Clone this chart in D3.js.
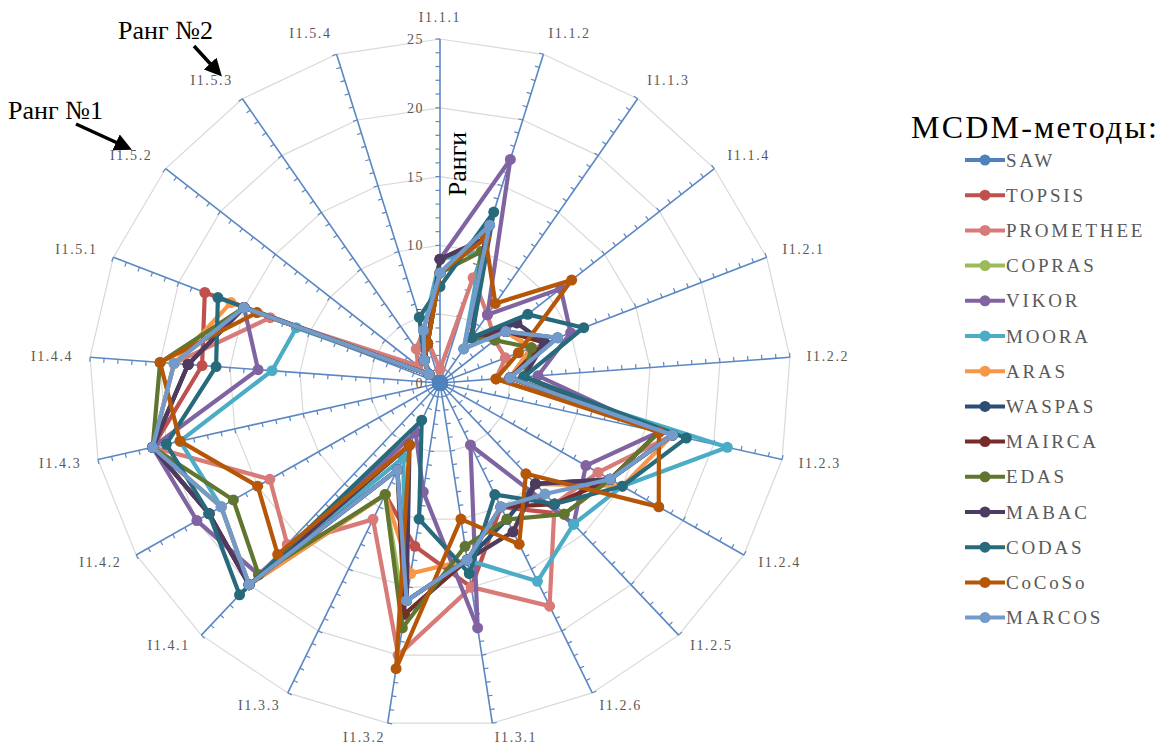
<!DOCTYPE html>
<html>
<head>
<meta charset="utf-8">
<script src="https://cdn.jsdelivr.net/npm/d3@7"></script>
<style>
  body { margin: 0; background: #fff; }
  text { font-family: "Liberation Serif", "Times New Roman", serif; }
</style>
</head>
<body>
<svg id="chart" width="1166" height="749"></svg>
<script>
// indicators (axes of the radar)
var categories = ["I1.1.1", "I1.1.2", "I1.1.3", "I1.1.4", "I1.2.1", "I1.2.2", "I1.2.3",
    "I1.2.4", "I1.2.5", "I1.2.6", "I1.3.1", "I1.3.2", "I1.3.3", "I1.4.1", "I1.4.2",
    "I1.4.3", "I1.4.4", "I1.5.1", "I1.5.2", "I1.5.3", "I1.5.4"];

var methods = ["SAW", "TOPSIS", "PROMETHEE", "COPRAS", "VIKOR", "MOORA", "ARAS",
    "WASPAS", "MAIRCA", "EDAS", "MABAC", "CODAS", "CoCoSo", "MARCOS"];

var methodColors = ["#4F81BD", "#C0504D", "#D87A78", "#9BBB59", "#8064A2", "#4BACC6", "#F79646",
    "#2C4D75", "#772C2A", "#5F7530", "#4D3B62", "#276A7C", "#B65708", "#729ACA"];

var tickValues = [0, 5, 10, 15, 20, 25];

// ranks, one array per method, in the order of categories
var saw       = [0, 0, 0, 0, 0, 0, 0, 0, 0, 0, 0, 0, 0, 0, 0, 0, 0, 0, 0, 0, 0];
var topsis    = [8, 11, 4, 6, 7, 5, 16, 14, 13, 10, 15, 12, 9, 20, 19, 21, 17, 18, 1, 2, 3];
var promethee = [1, 8, 6, 5, 5, 4, 17, 13, 12, 18, 15, 20, 11, 16, 14, 21, 19, 13, 2, 3, 4];
var copras    = [8, 11, 4, 6, 7, 5, 16, 14, 10, 12, 13, 17, 9, 20, 18, 21, 19, 15, 1, 2, 3];
var vikor     = [9, 17, 6, 11, 10, 7, 16, 12, 14, 5, 18, 8, 4, 19, 20, 21, 13, 15, 1, 2, 3];
var moora     = [9, 10, 3, 7, 8, 5, 21, 15, 14, 16, 13, 17, 6, 20, 18, 19, 12, 11, 1, 2, 4];
var aras      = [8, 11, 4, 6, 7, 5, 17, 15, 10, 12, 13, 14, 9, 20, 18, 21, 19, 16, 1, 2, 3];
var waspas    = [8, 12, 4, 6, 9, 5, 17, 14, 10, 11, 13, 16, 7, 20, 19, 21, 18, 15, 1, 2, 3];
var mairca    = [9, 11, 4, 6, 8, 5, 16, 14, 12, 10, 13, 17, 7, 20, 19, 21, 18, 15, 1, 2, 3];
var edas      = [8, 10, 4, 5, 7, 6, 16, 14, 13, 11, 12, 18, 9, 19, 17, 21, 20, 15, 1, 2, 3];
var mabac     = [9, 11, 4, 7, 8, 6, 17, 14, 10, 12, 13, 16, 5, 20, 19, 21, 18, 15, 1, 2, 3];
var codas     = [7, 13, 4, 8, 11, 6, 18, 15, 12, 9, 14, 10, 3, 21, 19, 20, 16, 17, 1, 2, 5];
var cocoso    = [8, 11, 7, 12, 6, 4, 16, 18, 9, 13, 10, 21, 5, 17, 15, 19, 20, 14, 1, 2, 3];
var marcos    = [8, 12, 3, 6, 9, 5, 17, 14, 11, 10, 13, 16, 7, 20, 18, 21, 19, 15, 1, 2, 4];

var seriesValues = [saw, topsis, promethee, copras, vikor, moora, aras,
    waspas, mairca, edas, mabac, codas, cocoso, marcos];

var svg = d3.select("#chart");
var cx = 440, cy = 383;
var xStretch = 1.02;
var axisColor = "#5B87C3";

var r = d3.scaleLinear().domain([0, 25]).range([0, 344]);
var angle = d3.scaleLinear().domain([0, categories.length]).range([0, 2 * Math.PI]);

function pos(i, v) {
    var a = angle(i);
    return [cx + Math.sin(a) * r(v) * xStretch, cy - Math.cos(a) * r(v)];
}

// grid rings
var ring = d3.line().curve(d3.curveLinearClosed);
svg.append("g")
    .selectAll("path")
    .data(tickValues.slice(1))
    .enter()
    .append("path")
    .attr("d", function (v) {
        return ring(categories.map(function (c, i) { return pos(i, v); }));
    })
    .attr("fill", "none")
    .attr("stroke", "#D9D9D9")
    .attr("stroke-width", 1.2);

// spokes with minor ticks
var spokes = svg.append("g");
categories.forEach(function (c, i) {
    var a = angle(i);
    var end = pos(i, 25);
    spokes.append("line")
        .attr("x1", cx).attr("y1", cy)
        .attr("x2", end[0]).attr("y2", end[1])
        .attr("stroke", axisColor)
        .attr("stroke-width", 1.6);
    var nx = -Math.cos(a), ny = -Math.sin(a);
    spokes.selectAll(null)
        .data(d3.range(1, 26))
        .enter()
        .append("line")
        .attr("x1", function (v) { return pos(i, v)[0]; })
        .attr("y1", function (v) { return pos(i, v)[1]; })
        .attr("x2", function (v) { return pos(i, v)[0] + nx * 4.5; })
        .attr("y2", function (v) { return pos(i, v)[1] + ny * 4.5; })
        .attr("stroke", axisColor)
        .attr("stroke-width", 1.2);

    var s = Math.sin(a), co = Math.cos(a);
    spokes.append("text")
        .attr("x", end[0] + s * 17)
        .attr("y", end[1] - co * 14 - (co > 0 ? co * 8 : 0))
        .attr("dy", "0.35em")
        .attr("text-anchor", s > 0.1 ? "start" : (s < -0.1 ? "end" : "middle"))
        .attr("fill", "#595959")
        .attr("font-size", 14)
        .attr("letter-spacing", 1.6)
        .text(c);
});

// value labels along first axis
svg.append("g")
    .selectAll("text")
    .data(tickValues)
    .enter()
    .append("text")
    .attr("x", cx - 16)
    .attr("y", function (v) { return cy - r(v); })
    .attr("dy", "0.35em")
    .attr("text-anchor", "end")
    .attr("fill", "#595959")
    .attr("font-size", 14)
    .attr("letter-spacing", 1.5)
    .text(function (v) { return v; });

// series
var line = d3.line().curve(d3.curveLinearClosed);
var seriesG = svg.append("g");
seriesValues.forEach(function (vals, k) {
    var pts = vals.map(function (v, i) { return pos(i, v); });
    var g = seriesG.append("g");
    g.append("path")
        .attr("d", line(pts))
        .attr("fill", "none")
        .attr("stroke", methodColors[k])
        .attr("stroke-width", 4.2)
        .attr("stroke-linejoin", "round");
    g.selectAll("circle")
        .data(pts)
        .enter()
        .append("circle")
        .attr("cx", function (p) { return p[0]; })
        .attr("cy", function (p) { return p[1]; })
        .attr("r", k == 0 ? 8 : 5.5)
        .attr("fill", methodColors[k]);
});

// axis title
svg.append("text")
    .attr("transform", "translate(466,164) rotate(-90)")
    .attr("text-anchor", "middle")
    .attr("font-size", 26)
    .attr("fill", "#000")
    .text("Ранги");

// legend
svg.append("text")
    .attr("x", 911)
    .attr("y", 138)
    .attr("font-size", 32)
    .attr("letter-spacing", 2.2)
    .attr("fill", "#000")
    .text("MCDM-методы:");

var legend = svg.append("g")
    .selectAll("g")
    .data(methods)
    .enter()
    .append("g")
    .attr("transform", function (d, i) {
        return "translate(965," + (160 + i * 35.2) + ")";
    });
legend.append("line")
    .attr("x1", 0).attr("x2", 40)
    .attr("stroke", function (d, i) { return methodColors[i]; })
    .attr("stroke-width", 4);
legend.append("circle")
    .attr("cx", 20).attr("r", 5.5)
    .attr("fill", function (d, i) { return methodColors[i]; });
legend.append("text")
    .attr("x", 41)
    .attr("dy", "0.35em")
    .attr("font-size", 19)
    .attr("letter-spacing", 2.8)
    .attr("fill", "#595959")
    .text(function (d) { return d; });

// rank annotations
var defs = svg.append("defs");
defs.append("marker")
    .attr("id", "arrow")
    .attr("viewBox", "0 0 10 10")
    .attr("refX", 5).attr("refY", 5)
    .attr("markerWidth", 5).attr("markerHeight", 5)
    .attr("orient", "auto")
    .append("path")
    .attr("d", "M0,0 L10,5 L0,10 z")
    .attr("fill", "#000");

var notes = [
    { text: "Ранг №1", x: 8, y: 119, from: [76, 124], to: [124, 146] },
    { text: "Ранг №2", x: 118, y: 39, from: [194, 46], to: [216, 70] }
];
notes.forEach(function (n) {
    svg.append("text")
        .attr("x", n.x).attr("y", n.y)
        .attr("font-size", 26)
        .attr("fill", "#000")
        .text(n.text);
    svg.append("line")
        .attr("x1", n.from[0]).attr("y1", n.from[1])
        .attr("x2", n.to[0]).attr("y2", n.to[1])
        .attr("stroke", "#000")
        .attr("stroke-width", 3.5)
        .attr("marker-end", "url(#arrow)");
});
</script>
</body>
</html>
